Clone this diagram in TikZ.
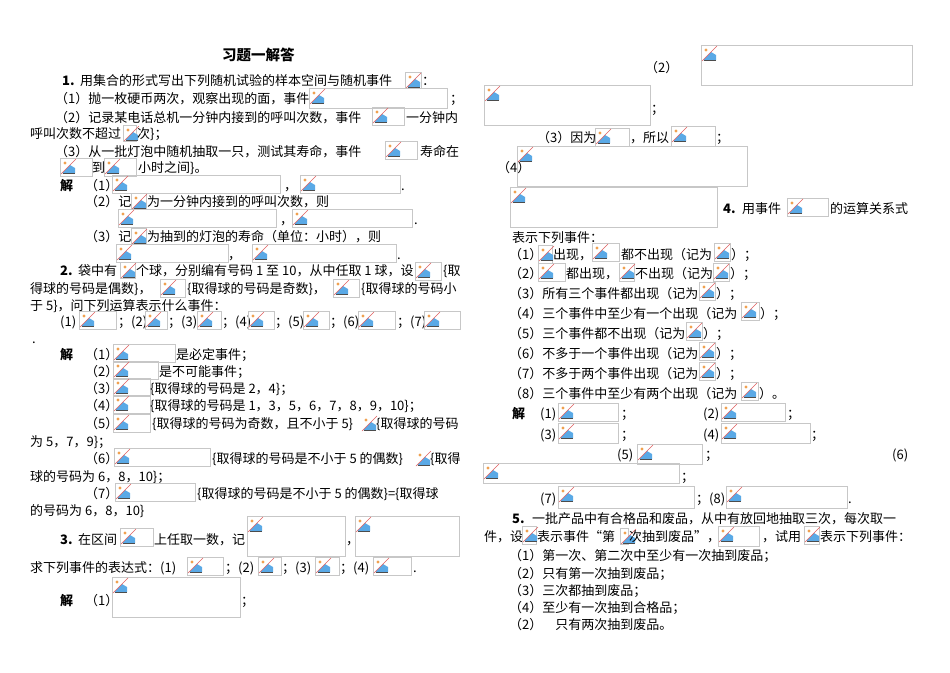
\documentclass[tikz,border=0pt]{standalone}
\usepackage{fontspec}
\setmainfont{Noto Sans CJK SC}
\definecolor{icoblue}{HTML}{5AA9E6}
\definecolor{icored}{HTML}{E06060}
\definecolor{icoor}{HTML}{F0A050}
\tikzset{phb/.style={draw=black!22,line width=0.8pt},
 txt/.style={anchor=base west,inner sep=0pt,font=\fontsize{13}{15}\selectfont}}
\newcommand\ico[2]{\fill[icoblue] (#1+1.5,#2+14) -- (#1+9,#2+6) -- (#1+14,#2+9) -- (#1+14,#2+14) -- cycle;
 \draw[black!70,line width=0.5pt] (#1+1.5,#2+14) -- (#1+14,#2+14);
 \draw[icored,line width=0.6pt] (#1,#2+15) -- (#1+15,#2);
 \fill[icoor] (#1+4,#2+4) circle (1.7);}
\newcommand\ph[4]{\draw[phb] (#1,#2) rectangle ++(#3,#4); \ico{#1+1}{#2+1}}
\newcommand\T[3]{\node[txt] at (#1,#2+5) {#3};}
\newcommand\B[3]{\node[txt,font=\fontsize{13}{15}\selectfont\bfseries] at (#1,#2+5) {#3};}
\begin{document}
\begin{tikzpicture}[x=1pt,y=-1pt]
\fill[white] (0,0) rectangle (950,672);
\useasboundingbox (0,0) rectangle (950,672);
% ---------- left column
\node[txt,font=\fontsize{14.5}{16}\selectfont\bfseries] at (222,60) {习题一解答};
\B{62}{80}{1.} \T{80}{80}{用集合的形式写出下列随机试验的样本空间与随机事件} \ph{405}{72}{16}{16} \T{422}{80}{：}
\T{55}{98}{（1）抛一枚硬币两次，观察出现的面，事件} \ph{309}{88}{138}{20} \T{450}{98}{；}
\T{55}{117}{（2）记录某电话总机一分钟内接到的呼叫次数，事件} \ph{372}{107}{32}{18} \T{406}{117}{一分钟内}
\T{30}{133}{呼叫次数不超过} \ph{123}{125}{13}{16} \T{137}{133}{次\}；}
\T{55}{151}{（3）从一批灯泡中随机抽取一只，测试其寿命，事件} \ph{385}{141}{32}{18} \T{420}{151}{寿命在}
\ph{60}{158}{32}{18} \T{92}{167}{到} \ph{104}{158}{32}{18} \T{138}{167}{小时之间\}。}
\B{60}{185}{解} \T{85}{185}{（1）} \ph{112}{175}{168}{18} \T{284}{185}{，} \ph{300}{175}{100}{18} \T{401}{185}{.}
\T{85}{201}{（2）记} \ph{131}{193}{15}{15} \T{147}{201}{为一分钟内接到的呼叫次数，则}
\ph{118}{209}{158}{18} \T{280}{219}{，} \ph{292}{209}{120}{18} \T{414}{219}{.}
\T{85}{236}{（3）记} \ph{131}{228}{15}{15} \T{147}{236}{为抽到的灯泡的寿命（单位：小时），则}
\ph{116}{244}{112}{18} \T{228}{254}{，} \ph{252}{244}{144}{18} \T{397}{254}{.}
\B{60}{270}{2.} \T{78}{270}{袋中有} \ph{120}{262}{15}{16} \T{136}{270}{个球，分别编有号码 1 至 10，从中任取 1 球，设} \ph{415}{262}{26}{18} \T{443}{270}{\{取}
\T{30}{288}{得球的号码是偶数\}，} \ph{160}{279}{25}{18} \T{187}{288}{\{取得球的号码是奇数\}，} \ph{333}{279}{26}{18} \T{361}{288}{\{取得球的号码小}
\T{30}{305}{于 5\}，问下列运算表示什么事件：}
\T{60}{321}{(1)} \ph{79}{311}{37}{18} \T{118}{321}{；(2)} \ph{145}{311}{22}{18} \T{168}{321}{；(3)} \ph{197}{311}{24}{18}
\T{222}{321}{；(4)} \ph{248}{311}{26}{18} \T{275}{321}{；(5)} \ph{303}{311}{26}{18} \T{330}{321}{；(6)} \ph{358}{311}{37}{18}
\T{397}{321}{；(7)} \ph{424}{311}{36}{18}
\T{32}{338}{.}
\B{60}{354}{解} \T{85}{354}{（1）} \ph{113}{344}{62}{18} \T{176}{354}{是必定事件；}
\T{85}{371}{（2）} \ph{113}{361}{45}{18} \T{159}{371}{是不可能事件；}
\T{85}{388}{（3）} \ph{113}{378}{37}{18} \T{150}{388}{\{取得球的号码是 2，4\}；}
\T{85}{405}{（4）} \ph{113}{395}{37}{18} \T{150}{405}{\{取得球的号码是 1，3，5，6，7，8，9，10\}；}
\T{85}{423}{（5）} \ph{113}{414}{37}{18} \T{152}{423}{\{取得球的号码为奇数，且不小于 5\}} \ico{362}{416} \T{376}{423}{\{取得球的号码}
\T{30}{441}{为 5，7，9\}；}
\T{85}{458}{（6）} \ph{114}{448}{96}{18} \T{212}{458}{\{取得球的号码是不小于 5 的偶数\}} \ico{416}{451} \T{430}{458}{\{取得}
\T{30}{476}{球的号码为 6，8，10\}；}
\T{85}{493}{（7）} \ph{115}{483}{80}{18} \T{197}{493}{\{取得球的号码是不小于 5 的偶数\}=\{取得球}
\T{30}{510}{的号码为 6，8，10\}}
\B{60}{539}{3.} \T{78}{539}{在区间} \ph{120}{528}{33}{18} \T{154}{539}{上任取一数，记} \ph{247}{516}{98}{40} \T{346}{539}{，} \ph{355}{516}{104}{40}
\T{30}{567}{求下列事件的表达式：(1)} \ph{187}{557}{36}{18} \T{225}{567}{；(2)} \ph{258}{557}{23}{18} \T{282}{567}{；(3)} \ph{315}{557}{24}{18}
\T{340}{567}{；(4)} \ph{373}{557}{38}{18} \T{413}{567}{.}
\B{60}{600}{解} \T{85}{600}{（1）} \ph{112}{577}{128}{40} \T{241}{600}{；}
% ---------- right column
\T{645}{67}{（2）} \ph{701}{45}{211}{40}
\ph{484}{85}{166}{40} \T{651}{108}{；}
\T{537}{137}{（3）因为} \ph{595}{128}{34}{18} \T{630}{137}{，所以} \ph{671}{126}{44}{20} \T{716}{137}{；}
\T{497}{167}{（4）} \ph{517}{146}{230}{40}
\ph{510}{187}{207}{40} \B{723}{208}{4.} \T{742}{208}{用事件} \ph{787}{198}{41}{18} \T{830}{208}{的运算关系式}
\T{512}{237}{表示下列事件：}
\T{509}{254}{（1）} \ph{538}{245}{14}{18} \T{553}{254}{出现，} \ph{592}{243}{27}{18} \T{621}{254}{都不出现（记为} \ph{714}{243}{16}{18} \T{731}{254}{）；}
\T{509}{273}{（2）} \ph{538}{263}{27}{18} \T{566}{273}{都出现，} \ph{619}{263}{15}{18} \T{635}{273}{不出现（记为} \ph{713}{263}{16}{18} \T{730}{273}{）；}
\T{509}{293}{（3）所有三个事件都出现（记为} \ph{699}{282}{16}{18} \T{716}{293}{）；}
\T{509}{313}{（4）三个事件中至少有一个出现（记为} \ph{741}{302}{18}{18} \T{760}{313}{）；}
\T{509}{333}{（5）三个事件都不出现（记为} \ph{686}{322}{16}{18} \T{703}{333}{）；}
\T{509}{353}{（6）不多于一个事件出现（记为} \ph{699}{342}{16}{18} \T{716}{353}{）；}
\T{509}{373}{（7）不多于两个事件出现（记为} \ph{699}{362}{16}{18} \T{716}{373}{）；}
\T{509}{393}{（8）三个事件中至少有两个出现（记为} \ph{741}{382}{17}{18} \T{759}{393}{）。}
\B{512}{413}{解} \T{540}{413}{(1)} \ph{558}{403}{60}{18} \T{621}{413}{；} \T{703}{413}{(2)} \ph{721}{403}{64}{18} \T{787}{413}{；}
\T{540}{434}{(3)} \ph{558}{423}{60}{20} \T{621}{434}{；} \T{703}{434}{(4)} \ph{721}{423}{89}{20} \T{811}{434}{；}
\T{617}{454}{(5)} \ph{637}{444}{65}{20} \T{705}{454}{；} \T{892}{454}{(6)}
\ph{483}{463}{196}{20} \T{681}{476}{；}
\T{540}{498}{(7)} \ph{558}{486}{136}{22} \T{696}{498}{；(8)} \ph{726}{486}{121}{22} \T{848}{498}{.}
\B{512}{518}{5.} \T{532}{518}{一批产品中有合格品和废品，从中有放回地抽取三次，每次取一}
\T{484}{536}{件，设} \ph{522}{526}{14}{18} \T{537}{536}{表示事件“第} \ph{620}{528}{8}{16} \T{629}{536}{次抽到废品”，} \ph{718}{526}{41}{20} \T{762}{536}{，试用} \ph{804}{526}{15}{18} \T{820}{536}{表示下列事件：}
\T{509}{555}{（1）第一次、第二次中至少有一次抽到废品；}
\T{509}{573}{（2）只有第一次抽到废品；}
\T{509}{590}{（3）三次都抽到废品；}
\T{509}{607}{（4）至少有一次抽到合格品；}
\T{509}{624}{（2）\quad 只有两次抽到废品。}
\end{tikzpicture}
\end{document}
